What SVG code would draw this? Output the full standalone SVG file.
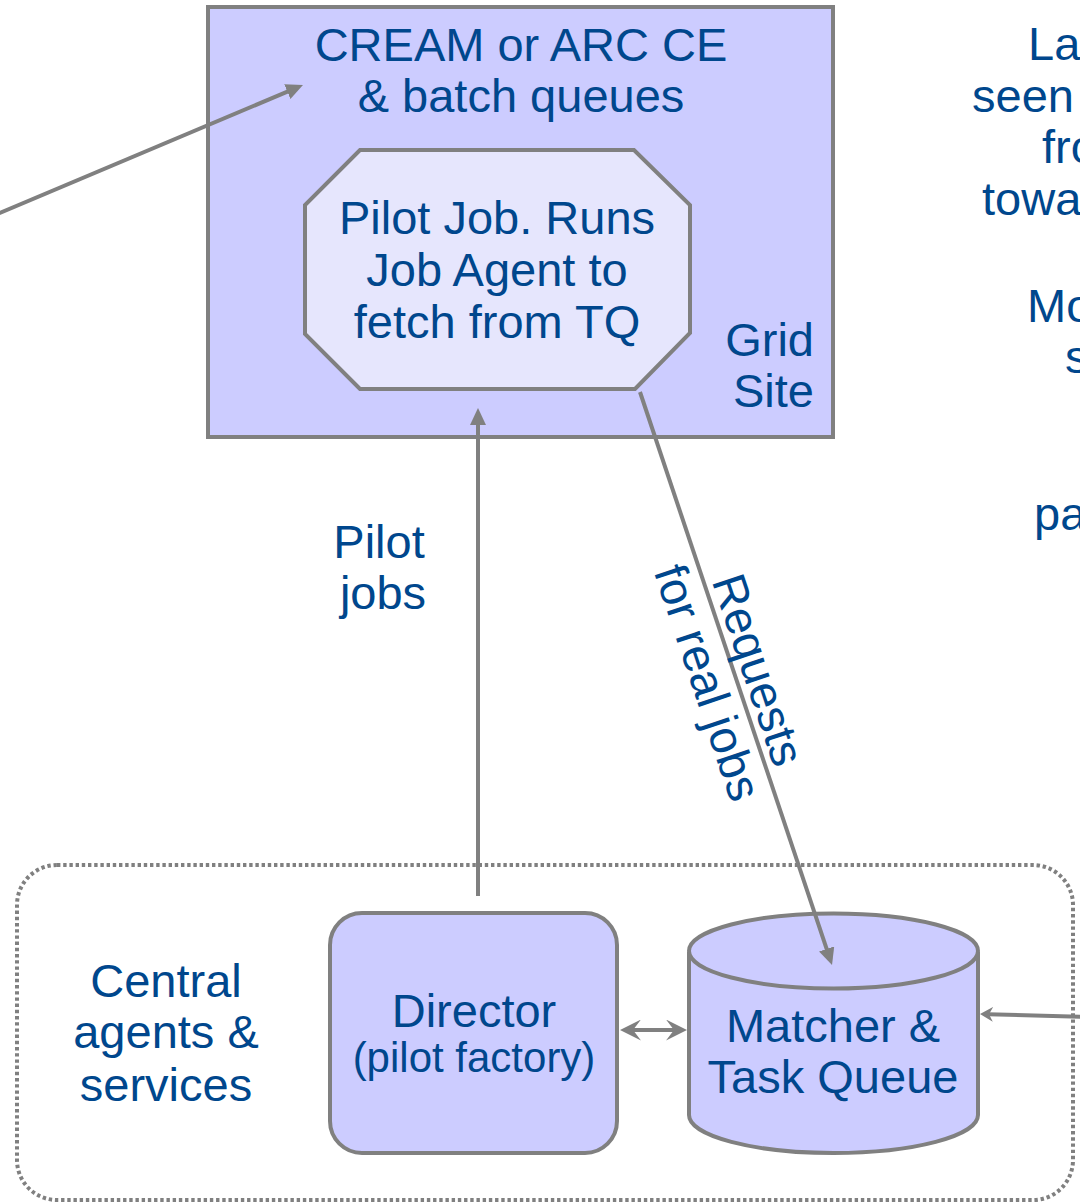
<svg xmlns="http://www.w3.org/2000/svg" width="1080" height="1202" viewBox="0 0 1080 1202">
  <style>
    text { font-family: "Liberation Sans", Arial, sans-serif; font-size: 47px; fill: #00478d; }
    .mid { text-anchor: middle; }
    .end { text-anchor: end; }
    .box { fill: #ccccff; stroke: #808080; stroke-width: 4; }
    .inner { fill: #e6e6fd; stroke: #808080; stroke-width: 4; }
    .edge { fill: none; stroke: #808080; stroke-width: 4; }
    .group { fill: none; stroke: #808080; stroke-width: 4; stroke-dasharray: 3.4 2.8; }
  </style>
  <defs>
    <marker id="tri" markerUnits="userSpaceOnUse" markerWidth="17" markerHeight="16" refX="4" refY="8" orient="auto" viewBox="0 0 17 16">
      <path d="M0,0 L17,8 L0,16 z" fill="#808080"/>
    </marker>
    <marker id="barb" markerUnits="userSpaceOnUse" markerWidth="21" markerHeight="21" refX="9" refY="10.5" orient="auto-start-reverse" viewBox="0 0 21 21">
      <path d="M21,10.5 L0,0 L8,10.5 L0,21 z" fill="#808080"/>
    </marker>
    <marker id="barbSmall" markerUnits="userSpaceOnUse" markerWidth="13" markerHeight="15" refX="5" refY="7.5" orient="auto" viewBox="0 0 13 15">
      <path d="M13,7.5 L0,0 L4,7.5 L0,15 z" fill="#808080"/>
    </marker>
  </defs>

  <rect width="1080" height="1202" fill="#ffffff"/>

  <!-- dotted frame around the central services -->
  <g id="central-services">
    <rect class="group" x="17" y="865" width="1056" height="335" rx="40" ry="40"/>
    <text class="mid" x="166" y="997">Central</text>
    <text class="mid" x="166" y="1048">agents &amp;</text>
    <text class="mid" x="166" y="1101">services</text>
  </g>

  <!-- grid site -->
  <g id="grid-site">
    <rect class="box" x="208" y="7" width="625" height="430"/>
    <text class="mid" x="521" y="61">CREAM or ARC CE</text>
    <text class="mid" x="521" y="112">&amp; batch queues</text>
    <text class="end" x="814" y="356">Grid</text>
    <text class="end" x="814" y="407">Site</text>
  </g>

  <g id="pilot-job">
    <polygon class="inner" points="360,150 634,150 690,205 690,333 635,389 360,389 305,334 305,205"/>
    <text class="mid" x="497" y="234">Pilot Job. Runs</text>
    <text class="mid" x="497" y="286">Job Agent to</text>
    <text class="mid" x="497" y="338">fetch from TQ</text>
  </g>

  <g id="director">
    <rect class="box" x="330" y="913" width="287" height="240" rx="32" ry="32"/>
    <text class="mid" x="474" y="1027">Director</text>
    <text class="mid" x="474" y="1072" style="font-size:42px">(pilot factory)</text>
  </g>

  <g id="task-queue">
    <path class="box" d="M689,952 L689,1115 A144.5,38 0 0 0 978,1115 L978,952"/>
    <ellipse class="box" cx="833.5" cy="951" rx="144.5" ry="37.5"/>
    <text class="mid" x="833" y="1042">Matcher &amp;</text>
    <text class="mid" x="833" y="1093">Task Queue</text>
  </g>

  <!-- connectors -->
  <g id="connectors">
    <line class="edge" x1="-12" y1="218" x2="291" y2="90.1" marker-end="url(#tri)"/>
    <line class="edge" x1="478" y1="896" x2="478" y2="421" marker-end="url(#tri)"/>
    <line class="edge" x1="640" y1="392" x2="827.9" y2="952.7" marker-end="url(#tri)"/>
    <line class="edge" x1="632" y1="1030" x2="675" y2="1030" marker-start="url(#barb)" marker-end="url(#barb)"/>
    <line class="edge" x1="1090" y1="1017" x2="988" y2="1014.2" marker-end="url(#barbSmall)"/>
  </g>

  <g id="connector-labels">
    <text class="mid" x="379" y="558">Pilot</text>
    <text class="mid" x="383" y="609">jobs</text>
    <g transform="translate(743,675) rotate(71.5)">
      <text class="mid" x="0" y="0">Requests</text>
      <text class="mid" x="-4" y="52">for real jobs</text>
    </g>
  </g>

  <!-- side notes running off the right edge -->
  <g id="side-notes">
    <text x="1028" y="60">La</text>
    <text x="972" y="112">seen</text>
    <text x="1042" y="163">fro</text>
    <text x="982" y="215">towa</text>
    <text x="1027" y="322">Mo</text>
    <text x="1065" y="373">s</text>
    <text x="1034" y="530">pa</text>
  </g>
</svg>
